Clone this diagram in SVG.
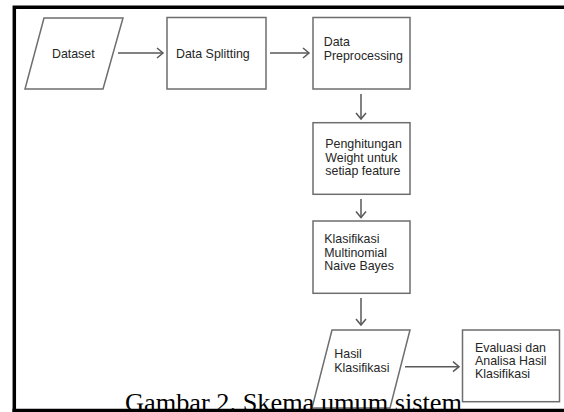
<svg xmlns="http://www.w3.org/2000/svg" width="564" height="412" viewBox="0 0 564 412">
<style>
.shape{fill:#fff;stroke:#6e6e6e;stroke-width:1.5}
.lbl{font-family:"Liberation Sans",Arial,sans-serif;font-size:12.4px;fill:#262626}
.cap{font-family:"Liberation Serif","Times New Roman",serif;font-size:25.5px;fill:#000}
.conn line{stroke:#595959;stroke-width:1.5;fill:none}
.conn path{stroke:#595959;stroke-width:1.5;fill:none}
.frame{stroke:#000;stroke-width:3.5;fill:none}
</style>
<rect width="564" height="412" fill="#fff"/>
<g id="dataset">
<polygon class="shape" points="44,18 123,18 103,89 25,89"/>
<text class="lbl" x="73.3" y="58" text-anchor="middle">Dataset</text>
</g>
<g id="data-splitting">
<rect class="shape" x="167" y="17.5" width="99" height="71.5"/>
<text class="lbl" x="176" y="58">Data Splitting</text>
</g>
<g id="data-preprocessing">
<rect class="shape" x="313" y="17.5" width="97" height="71.5"/>
<text class="lbl" x="323.7" y="45.7">Data</text>
<text class="lbl" x="323.7" y="60">Preprocessing</text>
</g>
<g id="penghitungan">
<rect class="shape" x="313" y="122.7" width="97" height="71.6"/>
<text class="lbl" x="325.3" y="148.3">Penghitungan</text>
<text class="lbl" x="325.3" y="161.5">Weight untuk</text>
<text class="lbl" x="325.3" y="174.5">setiap feature</text>
</g>
<g id="klasifikasi">
<rect class="shape" x="313" y="221" width="97" height="72.3"/>
<text class="lbl" x="324.3" y="243.3">Klasifikasi</text>
<text class="lbl" x="324.3" y="256.8">Multinomial</text>
<text class="lbl" x="324.3" y="270.2">Naive Bayes</text>
</g>
<g id="hasil">
<polygon class="shape" points="332,330 410,330 390,408 312,408"/>
<text class="lbl" x="334.3" y="357.5">Hasil</text>
<text class="lbl" x="334.3" y="371.7">Klasifikasi</text>
</g>
<g id="evaluasi">
<rect class="shape" x="462.5" y="330" width="97" height="71.7"/>
<text class="lbl" x="475" y="351.5">Evaluasi dan</text>
<text class="lbl" x="475" y="364.5">Analisa Hasil</text>
<text class="lbl" x="475" y="377.5">Klasifikasi</text>
</g>
<g id="connectors" class="conn">
<line x1="118" y1="53" x2="163" y2="53"/><path d="M157,48 L163,53 L157,58"/>
<line x1="270" y1="53" x2="309" y2="53"/><path d="M303,48 L309,53 L303,58"/>
<line x1="361" y1="94" x2="361" y2="119"/><path d="M356,113 L361,119 L366,113"/>
<line x1="361" y1="199" x2="361" y2="217.5"/><path d="M356,211.5 L361,217.5 L366,211.5"/>
<line x1="361" y1="298" x2="361" y2="325"/><path d="M356,319 L361,325 L366,319"/>
<line x1="405" y1="366.7" x2="459" y2="366.7"/><path d="M453,361.7 L459,366.7 L453,371.7"/>
</g>
<text class="cap" x="125" y="411" textLength="337" lengthAdjust="spacingAndGlyphs">Gambar 2. Skema umum sistem</text>
<g id="frame">
<path class="frame" d="M14.3,412 L14.3,7.3 L564,7.3"/>
<line class="frame" x1="12.5" y1="410.5" x2="564" y2="410.5"/>
</g>
</svg>
